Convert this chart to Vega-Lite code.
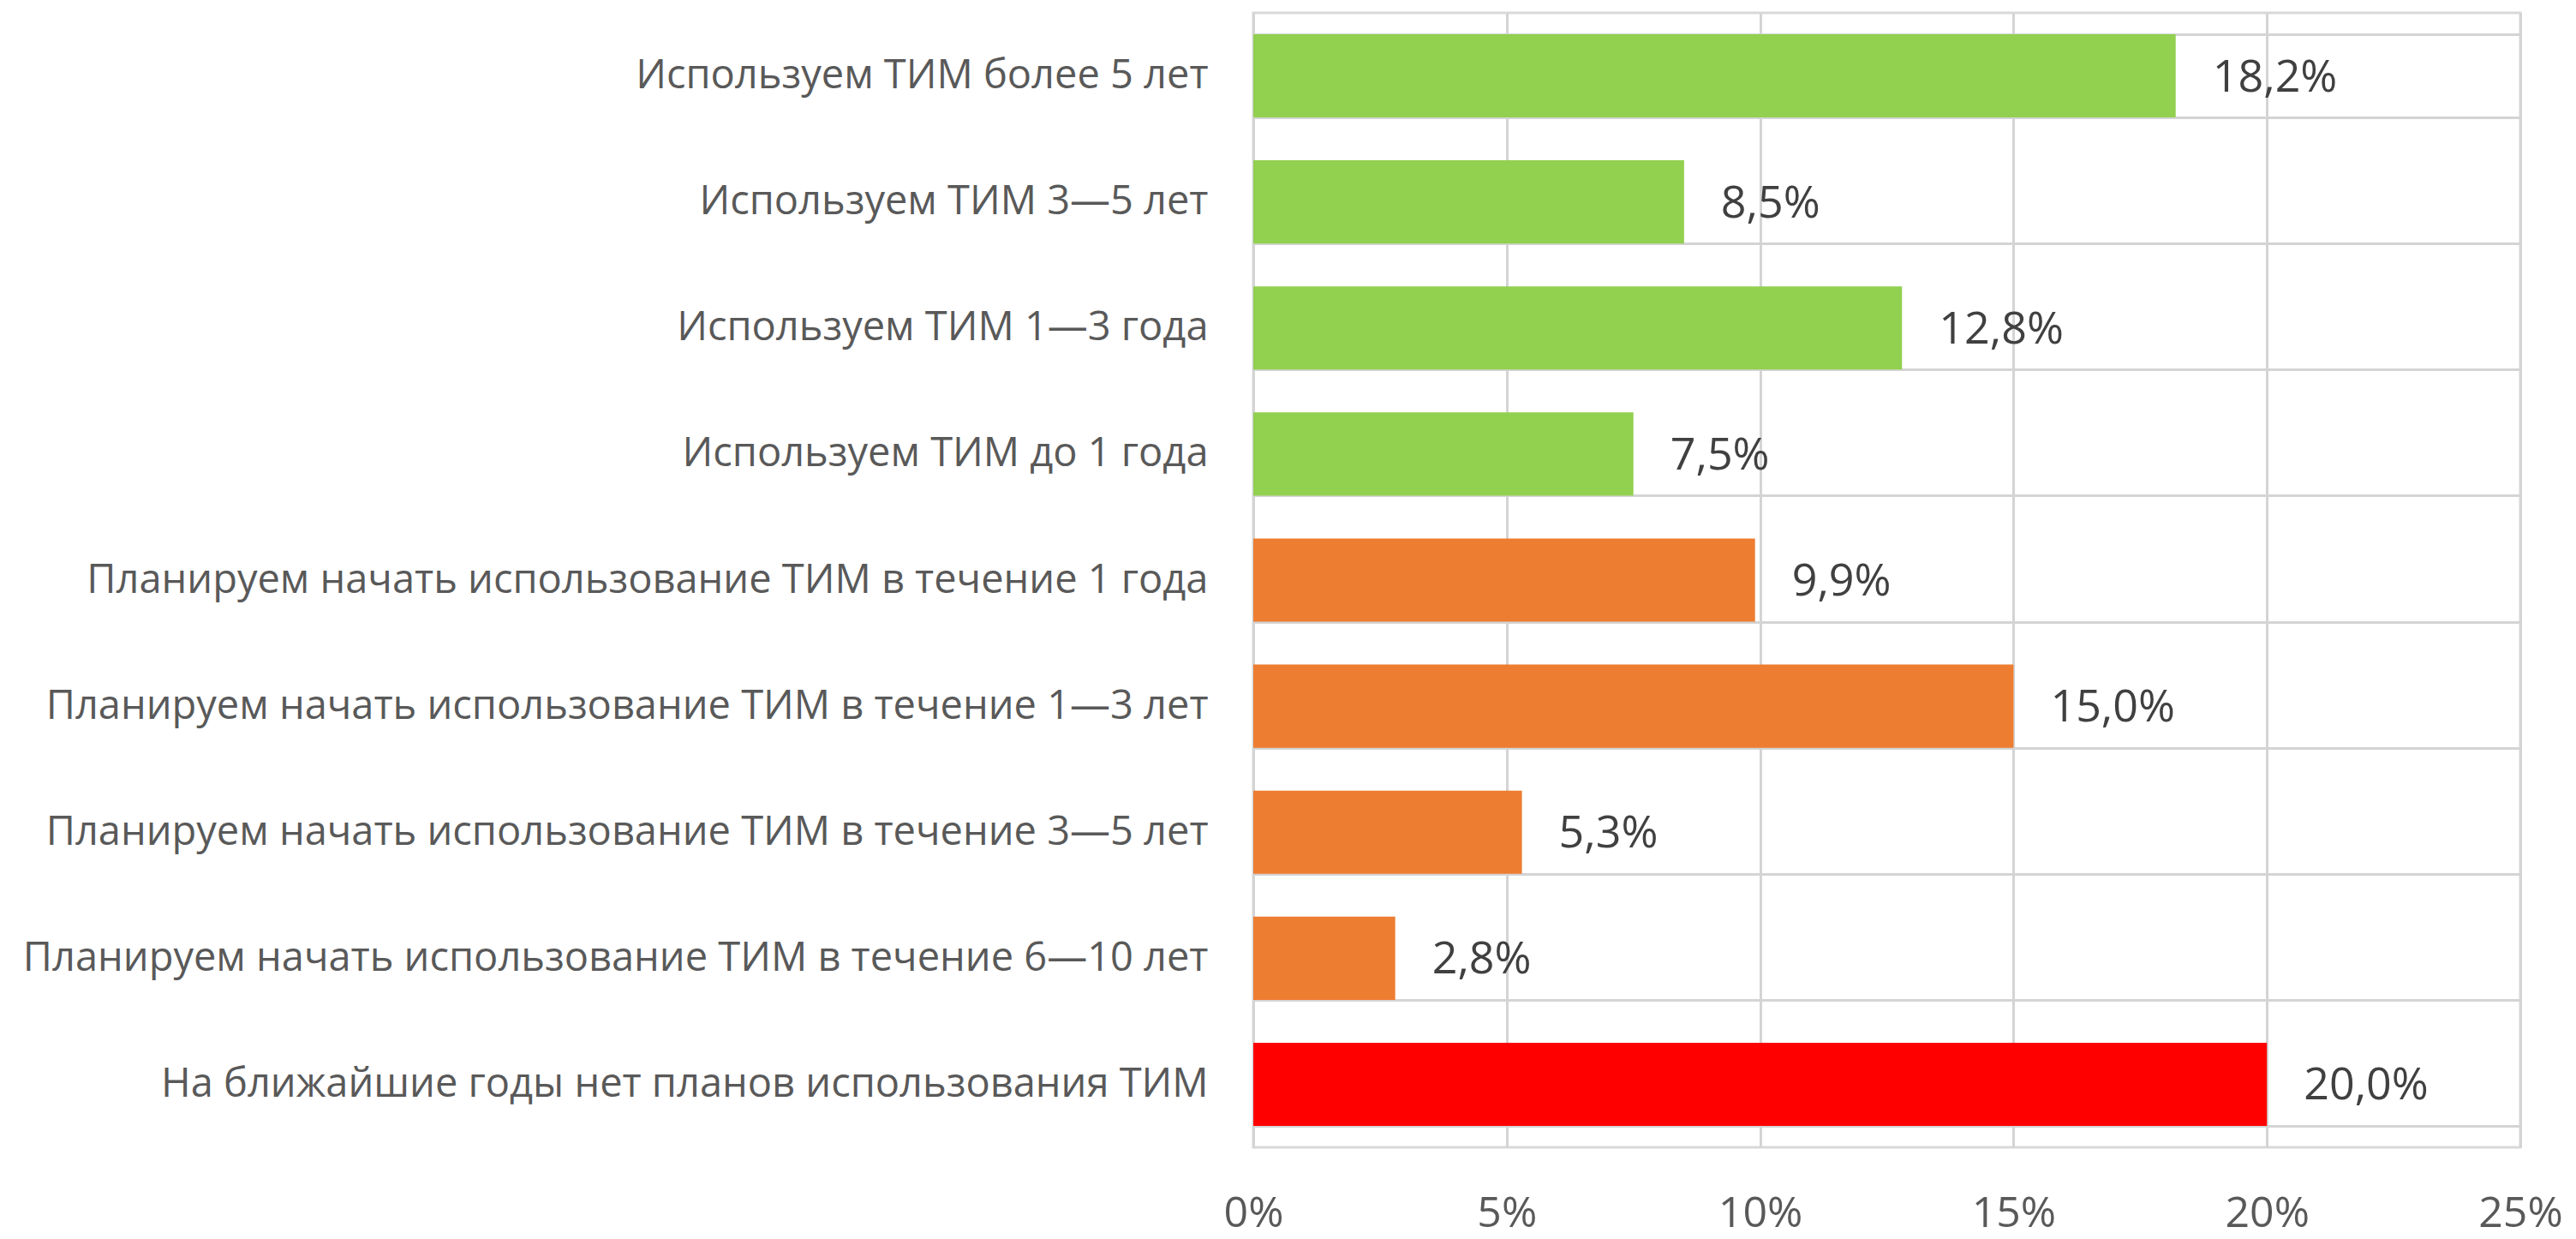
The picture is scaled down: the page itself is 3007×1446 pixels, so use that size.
{
  "$schema": "https://vega.github.io/schema/vega-lite/v6.json",
  "autosize": {"type": "none"},
  "padding": {"left": 1463, "top": 15, "right": 65, "bottom": 107},
  "width": 1479,
  "height": 1324,
  "background": "white",
  "config": {
    "view": {"stroke": "#d9d9d9", "strokeWidth": 3},
    "font": "Open Sans",
    "locale": {"number": {"decimal": ",", "thousands": " ", "grouping": [3], "currency": ["", " ₽"]}}
  },
  "data": {
    "values": [
      {"category": "Используем ТИМ более 5 лет", "value": 0.182, "group": "use"},
      {"category": "Используем ТИМ 3—5 лет", "value": 0.085, "group": "use"},
      {"category": "Используем ТИМ 1—3 года", "value": 0.128, "group": "use"},
      {"category": "Используем ТИМ до 1 года", "value": 0.075, "group": "use"},
      {"category": "Планируем начать использование ТИМ в течение 1 года", "value": 0.099, "group": "plan"},
      {"category": "Планируем начать использование ТИМ в течение 1—3 лет", "value": 0.150, "group": "plan"},
      {"category": "Планируем начать использование ТИМ в течение 3—5 лет", "value": 0.053, "group": "plan"},
      {"category": "Планируем начать использование ТИМ в течение 6—10 лет", "value": 0.028, "group": "plan"},
      {"category": "На ближайшие годы нет планов использования ТИМ", "value": 0.200, "group": "none"}
    ]
  },
  "encoding": {
    "y": {
      "field": "category",
      "type": "nominal",
      "sort": null,
      "scale": {"paddingInner": 0.34, "paddingOuter": 0.17},
      "axis": {
        "title": null,
        "domain": false,
        "ticks": false,
        "grid": true,
        "tickBand": "extent",
        "gridColor": "#d4d4d4",
        "gridWidth": 3,
        "labelFont": "Open Sans",
        "labelFontSize": 47,
        "labelColor": "#595959",
        "labelPadding": 53,
        "labelLimit": 0
      }
    },
    "x": {
      "field": "value",
      "type": "quantitative",
      "scale": {"domain": [0, 0.25], "nice": false},
      "axis": {
        "title": null,
        "values": [0, 0.05, 0.1, 0.15, 0.2, 0.25],
        "format": ".0%",
        "domain": false,
        "ticks": false,
        "grid": true,
        "gridColor": "#d4d4d4",
        "gridWidth": 3,
        "labelFont": "Open Sans",
        "labelFontSize": 50,
        "labelColor": "#595959",
        "labelPadding": 52,
        "labelFlush": false
      }
    }
  },
  "layer": [
    {
      "mark": {"type": "bar"},
      "encoding": {
        "color": {
          "field": "group",
          "type": "nominal",
          "scale": {"domain": ["use", "plan", "none"], "range": ["#92d050", "#ed7d31", "#ff0000"]},
          "legend": null
        }
      }
    },
    {
      "mark": {"type": "text", "align": "left", "baseline": "middle", "dx": 43, "dy": 2, "font": "Open Sans", "fontSize": 52, "color": "#404040"},
      "encoding": {
        "text": {"field": "value", "type": "quantitative", "format": ".1%"}
      }
    }
  ]
}
